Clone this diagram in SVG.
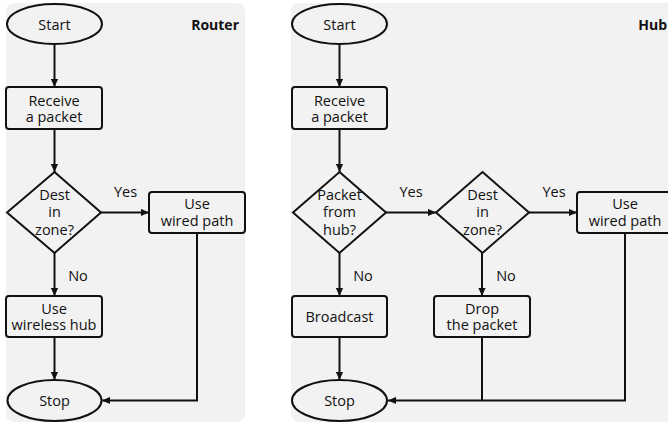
<svg xmlns="http://www.w3.org/2000/svg" width="668" height="426" viewBox="0 0 668 426">
<defs>
<style>
.bg{fill:#f2f2f2;stroke:none}
.n{fill:#f2f2f2;stroke:#111;stroke-width:2}
.t{font-family:"Open Sans","Noto Sans",sans-serif;font-size:14.5px;fill:#111;text-anchor:middle}
.h{font-family:"Open Sans","Noto Sans",sans-serif;font-size:14px;font-weight:bold;fill:#111;text-anchor:end}
.c{fill:none;stroke:#111;stroke-width:2}
</style>
<marker id="ah" viewBox="0 0 10 10" refX="10" refY="5" markerWidth="8" markerHeight="8" markerUnits="userSpaceOnUse" orient="auto">
<path d="M0,0.5 L10,5 L0,9.5 z" fill="#111"/>
</marker>
</defs>
<rect class="bg" x="6" y="3" width="239" height="419" rx="8"/>
<rect class="bg" x="291" y="3" width="390" height="419" rx="8"/>
<text class="h" x="239" y="30">Router</text>
<text class="h" x="667" y="30">Hub</text>
<g id="connectors">
<line class="c" x1="54.5" y1="44" x2="54.5" y2="87" marker-end="url(#ah)"/>
<line class="c" x1="54.5" y1="129" x2="54.5" y2="172" marker-end="url(#ah)"/>
<line class="c" x1="101" y1="212.5" x2="149" y2="212.5" marker-end="url(#ah)"/>
<line class="c" x1="54.5" y1="253" x2="54.5" y2="296" marker-end="url(#ah)"/>
<line class="c" x1="54.5" y1="337" x2="54.5" y2="380" marker-end="url(#ah)"/>
<polyline class="c" points="197,233 197,400.5 102,400.5" marker-end="url(#ah)"/>
<text class="t" x="125.5" y="197">Yes</text>
<text class="t" x="78" y="281">No</text>
<line class="c" x1="339.5" y1="44" x2="339.5" y2="87" marker-end="url(#ah)"/>
<line class="c" x1="339.5" y1="129" x2="339.5" y2="172" marker-end="url(#ah)"/>
<line class="c" x1="386" y1="212.5" x2="436" y2="212.5" marker-end="url(#ah)"/>
<line class="c" x1="529" y1="212.5" x2="577" y2="212.5" marker-end="url(#ah)"/>
<line class="c" x1="339.5" y1="253" x2="339.5" y2="296" marker-end="url(#ah)"/>
<line class="c" x1="482" y1="253" x2="482" y2="296" marker-end="url(#ah)"/>
<line class="c" x1="339.5" y1="337" x2="339.5" y2="380" marker-end="url(#ah)"/>
<line class="c" x1="482" y1="337" x2="482" y2="400.5"/>
<polyline class="c" points="625,233 625,400.5 388,400.5" marker-end="url(#ah)"/>
<text class="t" x="411" y="197">Yes</text>
<text class="t" x="554" y="197">Yes</text>
<text class="t" x="363" y="281">No</text>
<text class="t" x="506" y="281">No</text>
</g>
<g id="r-start"><ellipse class="n" cx="54.5" cy="24" rx="47.5" ry="20"/><text class="t" x="54.5" y="29.5">Start</text></g>
<g id="r-receive"><rect class="n" x="6" y="87" width="96" height="42" rx="3"/><text class="t" x="54" y="105.5">Receive</text><text class="t" x="54" y="121.5">a packet</text></g>
<g id="r-dest"><polygon class="n" points="54.5,172 101,212.5 54.5,253 7,212.5"/><text class="t" x="54.5" y="199.5">Dest</text><text class="t" x="54.5" y="217">in</text><text class="t" x="54.5" y="234.5">zone?</text></g>
<g id="r-wired"><rect class="n" x="149" y="192" width="96" height="41" rx="3"/><text class="t" x="197" y="209">Use</text><text class="t" x="197" y="225.5">wired path</text></g>
<g id="r-wireless"><rect class="n" x="6" y="296" width="96" height="41" rx="3"/><text class="t" x="54" y="313.5">Use</text><text class="t" x="54" y="330">wireless hub</text></g>
<g id="r-stop"><ellipse class="n" cx="54.5" cy="400.5" rx="47" ry="20.5"/><text class="t" x="54.5" y="405.5">Stop</text></g>
<g id="h-start"><ellipse class="n" cx="339.5" cy="24" rx="47.5" ry="20"/><text class="t" x="339.5" y="29.5">Start</text></g>
<g id="h-receive"><rect class="n" x="292" y="87" width="95" height="42" rx="3"/><text class="t" x="339.5" y="105.5">Receive</text><text class="t" x="339.5" y="121.5">a packet</text></g>
<g id="h-from"><polygon class="n" points="339.5,172 386,212.5 339.5,253 293,212.5"/><text class="t" x="339.5" y="199.5">Packet</text><text class="t" x="339.5" y="217">from</text><text class="t" x="339.5" y="234.5">hub?</text></g>
<g id="h-dest"><polygon class="n" points="482.5,172 529,212.5 482.5,253 436,212.5"/><text class="t" x="482.5" y="199.5">Dest</text><text class="t" x="482.5" y="217">in</text><text class="t" x="482.5" y="234.5">zone?</text></g>
<g id="h-wired"><rect class="n" x="577" y="192" width="96" height="41" rx="3"/><text class="t" x="625" y="209">Use</text><text class="t" x="625" y="225.5">wired path</text></g>
<g id="h-broadcast"><rect class="n" x="292" y="296" width="95" height="41" rx="3"/><text class="t" x="339.5" y="322">Broadcast</text></g>
<g id="h-drop"><rect class="n" x="434" y="296" width="96" height="41" rx="3"/><text class="t" x="482" y="313.5">Drop</text><text class="t" x="482" y="330">the packet</text></g>
<g id="h-stop"><ellipse class="n" cx="339.5" cy="400.5" rx="47.5" ry="20.5"/><text class="t" x="339.5" y="405.5">Stop</text></g>
</svg>
